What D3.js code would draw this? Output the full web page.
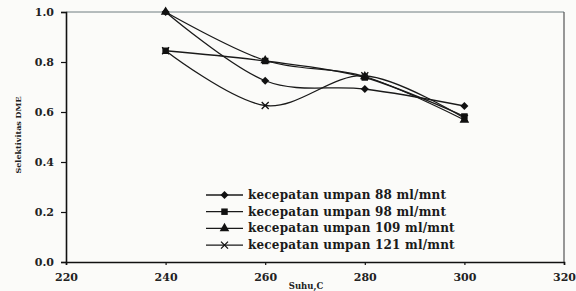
<!DOCTYPE html>
<meta charset="utf-8">
<body style="margin:0; background:#fbfbf9;">
<svg id="chart" width="576" height="291"></svg>
<script src="https://d3js.org/d3.v7.min.js"></script>
<script>
// data
var suhu = [240, 260, 280, 300];
var umpan88  = [1.0, 0.725, 0.692, 0.624];
var umpan98  = [0.845, 0.804, 0.738, 0.582];
var umpan109 = [1.0, 0.806, 0.742, 0.568];
var umpan121 = [0.845, 0.626, 0.745, 0.575];
var seriesNames = ["kecepatan umpan 88 ml/mnt", "kecepatan umpan 98 ml/mnt",
                   "kecepatan umpan 109 ml/mnt", "kecepatan umpan 121 ml/mnt"];
var markers = ["diamond", "square", "triangle", "cross"];
var xTicks = [220, 240, 260, 280, 300, 320];
var yTicks = [0, 0.2, 0.4, 0.6, 0.8, 1.0];

var svg = d3.select("#chart");
var font = "'DejaVu Serif', serif";

var x = d3.scaleLinear().domain([220, 320]).range([66, 564]);
var y = d3.scaleLinear().domain([0, 1]).range([262, 12]);

// frame (top + right are lighter in the scan)
svg.append("line").attr("x1", 66).attr("x2", 564).attr("y1", 12).attr("y2", 12)
   .attr("stroke", "#6f7c80").attr("stroke-width", 1);
svg.append("line").attr("x1", 564).attr("x2", 564).attr("y1", 12).attr("y2", 262)
   .attr("stroke", "#555").attr("stroke-width", 1.2);

// axes
var gy = svg.append("g").attr("transform", "translate(66,0)")
  .call(d3.axisLeft(y).tickValues(yTicks).tickFormat(d3.format(".1f")).tickSize(5).tickPadding(7));
var gx = svg.append("g").attr("transform", "translate(0,262)")
  .call(d3.axisBottom(x).tickValues(xTicks).tickSize(3).tickPadding(8));
[gx, gy].forEach(function(g) {
  g.select(".domain").attr("stroke", "#111").attr("stroke-width", 1.6);
  g.selectAll(".tick line").attr("stroke", "#111").attr("stroke-width", 1.2);
  g.selectAll("text").attr("font-family", font).attr("font-weight", "bold")
   .attr("font-size", 11).attr("fill", "#222");
});

// axis titles
svg.append("text").attr("x", 306).attr("y", 289).attr("text-anchor", "middle")
  .attr("font-family", font).attr("font-weight", "bold").attr("font-size", 8.5)
  .attr("fill", "#222").text("Suhu,C");
svg.append("text").attr("transform", "translate(21,135) rotate(-90)")
  .attr("text-anchor", "middle").attr("font-family", font).attr("font-weight", "bold")
  .attr("font-size", 8).attr("fill", "#222").text("Selektivitas DME");

function drawMarker(g, type, cx, cy) {
  var t = "translate(" + cx + "," + cy + ")";
  if (type == "diamond") {
    g.append("path").attr("d", "M0,-4L4,0L0,4L-4,0Z").attr("transform", t).attr("fill", "#111");
  } else if (type == "square") {
    g.append("path").attr("d", d3.symbol(d3.symbolSquare, 42)()).attr("transform", t).attr("fill", "#111");
  } else if (type == "triangle") {
    g.append("path").attr("d", d3.symbol(d3.symbolTriangle, 40)()).attr("transform", t).attr("fill", "#111");
  } else {
    g.append("path").attr("d", "M-3.5,-3.5L3.5,3.5M-3.5,3.5L3.5,-3.5").attr("transform", t)
     .attr("stroke", "#111").attr("stroke-width", 1.3).attr("fill", "none");
  }
}

var allSeries = [umpan88, umpan98, umpan109, umpan121];
var line = d3.line().x(function(d, i) { return x(suhu[i]); }).y(function(d) { return y(d); })
  .curve(d3.curveCardinal.tension(0));

allSeries.forEach(function(vals, k) {
  var g = svg.append("g");
  g.append("path").attr("d", line(vals)).attr("fill", "none")
   .attr("stroke", "#1a1a1a").attr("stroke-width", 1.3);
  vals.forEach(function(v, i) { drawMarker(g, markers[k], x(suhu[i]), y(v)); });
});

// legend
var leg = svg.append("g");
seriesNames.forEach(function(name, k) {
  var ly = 195 + k * 16.7;
  leg.append("line").attr("x1", 206).attr("x2", 243).attr("y1", ly).attr("y2", ly)
     .attr("stroke", "#1a1a1a").attr("stroke-width", 1.3);
  drawMarker(leg, markers[k], 224.5, ly);
  leg.append("text").attr("x", 248).attr("y", ly + 4).attr("font-family", font)
     .attr("font-weight", "bold").attr("font-size", 12).attr("fill", "#1a1a1a")
     .attr("letter-spacing", 0.2).text(name);
});
</script>
</body>
